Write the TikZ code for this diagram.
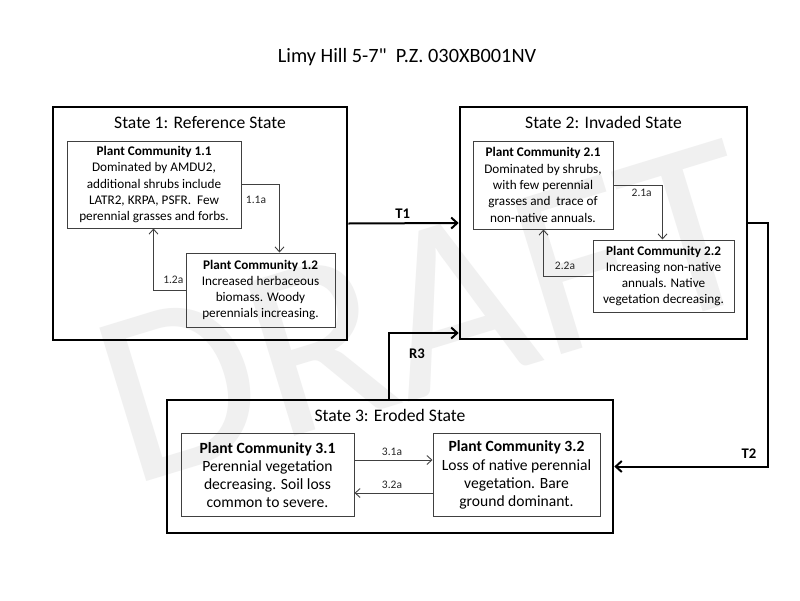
\documentclass[tikz,border=0pt]{standalone}
\usepackage{fontspec}
\setmainfont{Carlito}
\usetikzlibrary{arrows.meta}
\newcommand{\pcfont}{\fontsize{13.2}{16.3}\selectfont}
\newcommand{\pcfontL}{\fontsize{15.6}{18.2}\selectfont}
\tikzset{
  statebox/.style={draw=black, line width=2.6pt},
  pcbox/.style={draw=black!75, line width=1pt, align=center, inner sep=0pt, font=\pcfont},
  pcboxL/.style={pcbox, font=\pcfontL},
  inarrow/.style={draw=black!75, line width=0.9pt, -{Straight Barb[length=5pt,width=9pt]}},
  transarrow/.style={draw=black, line width=2pt, -{Straight Barb[length=6pt,width=11pt]}},
  smalllab/.style={font=\fontsize{11.5}{13}\selectfont, text=black!85},
  translab/.style={font=\fontsize{14.7}{16}\selectfont\bfseries},
  statetitle/.style={font=\fontsize{17.6}{20}\selectfont, anchor=base},
}
\begin{document}
\begin{tikzpicture}[x=1pt,y=-1pt]
\useasboundingbox[fill=white] (0,0) rectangle (800,600);
% watermark
\node[rotate=17, text=black!6, font=\fontsize{250}{250}\selectfont, inner sep=0pt] (wm) at (428,312) {DRAFT};
% title
\node[font=\fontsize{20.3}{24}\selectfont, anchor=base] (title) at (407,62.7) {Limy Hill 5-7\textquotedbl\ \ P.Z. 030XB001NV};
% state boxes
\node[statebox, minimum width=294pt, minimum height=233pt, inner sep=0pt] (s1) at (200,223.5) {};
\node[statebox, minimum width=287pt, minimum height=232pt, inner sep=0pt] (s2) at (603.5,223) {};
\node[statebox, minimum width=446pt, minimum height=133pt, inner sep=0pt] (s3) at (390,466.5) {};
\node[statetitle] (s1t) at (200,128.3) {State 1: Reference State};
\node[statetitle] (s2t) at (603.5,128.3) {State 2: Invaded State};
\node[statetitle] (s3t) at (390,421.7) {State 3: Eroded State};
% plant communities
\node[pcbox, minimum width=174pt, minimum height=87pt] (pc11) at (154,184.5)
  {\textbf{Plant Community 1.1}\\Dominated by AMDU2,\\additional shrubs include\\LATR2, KRPA, PSFR.\ \ Few\\perennial grasses and forbs.};
\node[pcbox, minimum width=149pt, minimum height=74pt] (pc12) at (260.5,290)
  {\textbf{Plant Community 1.2}\\Increased herbaceous\\biomass. Woody\\perennials increasing.};
\node[pcbox, minimum width=140pt, minimum height=88pt] (pc21) at (543,185)
  {\textbf{Plant Community 2.1}\\Dominated by shrubs,\\with few perennial\\grasses and\ \ trace of\\non-native annuals.};
\node[pcbox, minimum width=141pt, minimum height=72pt] (pc22) at (663.5,276)
  {\textbf{Plant Community 2.2}\\Increasing non-native\\annuals. Native\\vegetation decreasing.};
\node[pcboxL, minimum width=173pt, minimum height=83pt] (pc31) at (267.5,475)
  {\textbf{Plant Community 3.1}\\Perennial vegetation\\decreasing. Soil loss\\common to severe.};
\node[pcboxL, minimum width=167pt, minimum height=83pt] (pc32) at (516.5,475)
  {\textbf{Plant Community 3.2}\\Loss of native perennial\\vegetation. Bare\\ground dominant.};
% internal transitions
\draw[inarrow] (pc11.east) -| ([xshift=94pt]pc12.north west);
\draw[inarrow] (pc12.west) -| ([xshift=87pt]pc11.south west);
\draw[inarrow] (pc21.east) -| ([xshift=70pt]pc22.north west);
\draw[inarrow] (pc22.west) -| ([xshift=71pt]pc21.south west);
\draw[inarrow] ([yshift=15pt]pc31.east) -- ([yshift=15pt]pc32.west);
\draw[inarrow] ([yshift=-18pt]pc32.west) -- ([yshift=-18pt]pc31.east);
\node[smalllab] (l11a) at (256,200) {1.1a};
\node[smalllab] (l12a) at (173.3,280) {1.2a};
\node[smalllab] (l21a) at (641.7,192.7) {2.1a};
\node[smalllab] (l22a) at (565,265.7) {2.2a};
\node[smalllab] (l31a) at (392,452.3) {3.1a};
\node[smalllab] (l32a) at (392,485) {3.2a};
% state transitions
\draw[transarrow] (s1.east) -- (s2.west);
\draw[transarrow] ([xshift=223pt]s3.north west) |- ([yshift=-110pt]s2.west);
\draw[transarrow] (s2.east) -- ++(20,0) |- (s3.east);
\node[translab] (t1) at (402.7,213.3) {T1};
\node[translab] (r3) at (417,353.3) {R3};
\node[translab] (t2) at (749,453.3) {T2};
\end{tikzpicture}
\end{document}
